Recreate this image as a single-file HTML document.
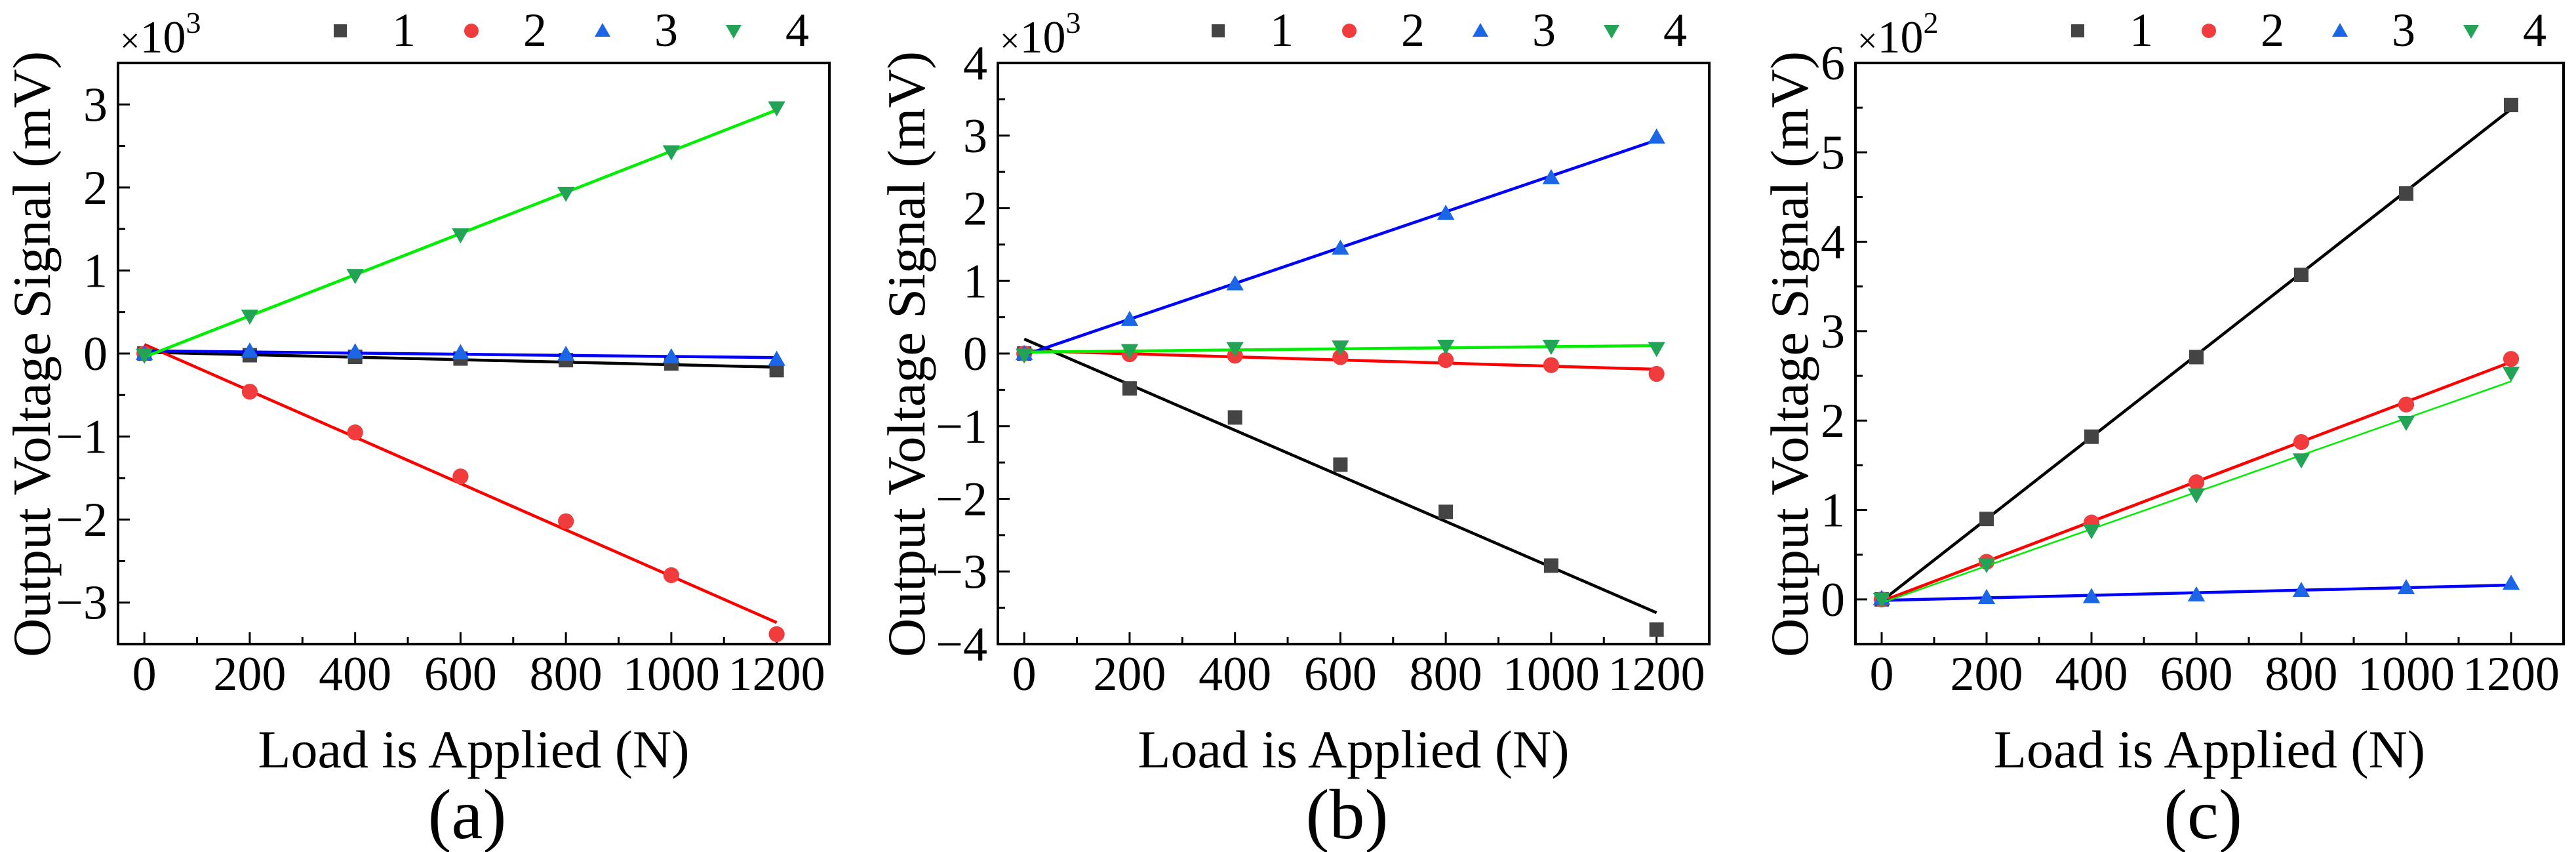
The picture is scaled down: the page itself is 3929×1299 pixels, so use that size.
<!DOCTYPE html>
<html><head><meta charset="utf-8"><style>
html,body{margin:0;padding:0;background:#fff;}
svg{display:block;}
svg text{font-family:"Liberation Serif","Times New Roman",serif;}
</style></head><body>
<svg id="fig" width="3929" height="1299" viewBox="0 0 3929 1299" xmlns="http://www.w3.org/2000/svg"></svg>
<script>
// ---- Data ----
const loads = [0, 200, 400, 600, 800, 1000, 1200];
const seriesNames = ["1", "2", "3", "4"];
// Panel (a), x10^3 mV
const a1 = [0, -0.02, -0.04, -0.06, -0.08, -0.12, -0.2];
const a2 = [0, -0.46, -0.95, -1.48, -2.02, -2.67, -3.38];
const a3 = [0, 0.03, 0.02, 0.01, -0.01, -0.04, -0.07];
const a4 = [-0.02, 0.45, 0.94, 1.43, 1.93, 2.43, 2.96];
// Panel (b), x10^3 mV
const b1 = [0, -0.48, -0.88, -1.53, -2.18, -2.92, -3.8];
const b2 = [0, -0.01, -0.03, -0.05, -0.09, -0.16, -0.28];
const b3 = [0, 0.47, 0.96, 1.45, 1.93, 2.42, 2.98];
const b4 = [-0.02, 0.04, 0.07, 0.09, 0.1, 0.1, 0.07];
// Panel (c), x10^2 mV
const c1 = [0, 0.9, 1.82, 2.71, 3.63, 4.54, 5.53];
const c2 = [0, 0.42, 0.86, 1.31, 1.76, 2.18, 2.69];
const c3 = [0.01, 0.02, 0.03, 0.05, 0.1, 0.13, 0.18];
const c4 = [0, 0.39, 0.77, 1.17, 1.56, 1.98, 2.53];
const xTicks = [0, 200, 400, 600, 800, 1000, 1200];
const aTicks = [-3, -2, -1, 0, 1, 2, 3];
const bTicks = [-4, -3, -2, -1, 0, 1, 2, 3, 4];
const cTicks = [0, 1, 2, 3, 4, 5, 6];

const NS = "http://www.w3.org/2000/svg";
const FONT = "Liberation Serif, Times New Roman, serif";
const svg = document.getElementById("fig");
function mk(tag, attrs, parent) {
  const e = document.createElementNS(NS, tag);
  if (tag === "text") e.setAttribute("font-family", FONT);
  for (const k in attrs) e.setAttribute(k, attrs[k]);
  (parent || svg).appendChild(e);
  return e;
}
const markerCol = ["#444444", "#f03c3c", "#1a66e6", "#22a356"];
const lineCol = ["#000000", "#ff0000", "#0000ff", "#00ee00"];
const shapes = ["square", "circle", "up", "down"];

function marker(g, shape, cx, cy, col, r) {
  let el;
  if (shape === "square") el = mk("rect", {x: cx - r, y: cy - r, width: 2 * r, height: 2 * r, fill: col}, g);
  else if (shape === "circle") el = mk("circle", {cx: cx, cy: cy, r: r * 1.1, fill: col}, g);
  else if (shape === "up") el = mk("polygon", {points: `${cx},${cy - r * 1.2} ${cx - r * 1.2},${cy + r * 0.9} ${cx + r * 1.2},${cy + r * 0.9}`, fill: col}, g);
  else el = mk("polygon", {points: `${cx},${cy + r * 1.2} ${cx - r * 1.2},${cy - r * 0.9} ${cx + r * 1.2},${cy - r * 0.9}`, fill: col}, g);
  return el;
}
function fit(xs, ys) {
  const n = xs.length;
  let sx = 0, sy = 0, sxx = 0, sxy = 0;
  for (let i = 0; i < n; i++) { sx += xs[i]; sy += ys[i]; sxx += xs[i] * xs[i]; sxy += xs[i] * ys[i]; }
  const m = (n * sxy - sx * sy) / (n * sxx - sx * sx);
  return [m, (sy - m * sx) / n];
}

function panel(cfg) {
  const g = mk("g", {});
  
  
  const L = cfg.L, R = cfg.R, T = 96, B = 982;
  const xmin = -50, xmax = 1300;
  const X = v => L + (v - xmin) / (xmax - xmin) * (R - L);
  const Y = v => B - (v - cfg.ymin) / (cfg.ymax - cfg.ymin) * (B - T);
  const fr = mk("rect", {x: L, y: T, width: R - L, height: B - T, fill: "none", stroke: "#000", "stroke-width": 4}, g);
  
  
  for (let v = 0; v <= 1300; v += 100) {
    const major = v % 200 === 0;
    mk("line", {x1: X(v), x2: X(v), y1: B, y2: B - (major ? 18 : 11), stroke: "#000", "stroke-width": 3}, g);
  }
  xTicks.forEach(v => {
    const t = mk("text", {x: X(v), y: 1052, "text-anchor": "middle", "font-size": 74}, g);
    t.textContent = v;
    
    
  });
  const step = cfg.ticks[1] - cfg.ticks[0];
  for (let v = cfg.ymin; v <= cfg.ymax + 1e-9; v += step / 2) {
    const vv = Math.round(v * 100) / 100;
    const major = Math.abs(vv / step - Math.round(vv / step)) < 1e-6;
    mk("line", {x1: L, x2: L + (major ? 18 : 11), y1: Y(vv), y2: Y(vv), stroke: "#000", "stroke-width": 3}, g);
  }
  cfg.ticks.forEach(v => {
    const t = mk("text", {x: L - 16, y: Y(v) + 25, "text-anchor": "end", "font-size": 74}, g);
    t.textContent = v < 0 ? "\u2212" + (-v) : String(v);
    
    
  });
  const mlt = mk("text", {x: L + 3, y: 80, "font-size": 70}, g);
  
  
  mlt.innerHTML = '<tspan font-size="54">\u00d7</tspan>10<tspan font-size="46" dy="-30">' + cfg.exp + '</tspan>';
  const yt = mk("text", {x: cfg.ytx, y: 540, "text-anchor": "middle", "font-size": 82, transform: `rotate(-90 ${cfg.ytx} 540)`}, g);
  yt.textContent = "Output Voltage Signal (mV)";
  
  
  const xt = mk("text", {x: (L + R) / 2, y: 1170, "text-anchor": "middle", "font-size": 82}, g);
  xt.textContent = "Load is Applied (N)";
  
  
  const lab = mk("text", {x: (L + R) / 2 - 10, y: 1278, "text-anchor": "middle", "font-size": 108}, g);
  lab.textContent = "(" + cfg.id + ")";
  
  
  cfg.data.forEach((ys, si) => {
    const sg = mk("g", {}, g);
    
    
    const [m, b] = fit(loads, ys);
    const ln = mk("line", {x1: X(0), y1: Y(b), x2: X(1200), y2: Y(m * 1200 + b), stroke: lineCol[si], "stroke-width": (cfg.thin && si === 3) ? 2.5 : 4.5}, sg);
    
    
    loads.forEach((x, i) => {
      const mkEl = marker(sg, shapes[si], X(x), Y(ys[i]), markerCol[si], 11);
      
      
    });
  });
  seriesNames.forEach((n, i) => {
    const lg = mk("g", {}, g);
    
    
    const mx = cfg.legX + i * 200;
    marker(lg, shapes[i], mx, 47, markerCol[i], 10);
    const t = mk("text", {x: mx + 115, y: 70, "text-anchor": "end", "font-size": 72}, lg);
    t.textContent = n;
  });
}

panel({id: "a", L: 180, R: 1265, ymin: -3.5, ymax: 3.5, ticks: aTicks, exp: "3", data: [a1, a2, a3, a4], ytx: 76, legX: 519});
panel({id: "b", L: 1522, R: 2607, ymin: -4, ymax: 4, ticks: bTicks, exp: "3", data: [b1, b2, b3, b4], ytx: 1410, legX: 1858});
panel({id: "c", L: 2830, R: 3910, ymin: -0.5, ymax: 6, ticks: cTicks, exp: "2", data: [c1, c2, c3, c4], ytx: 2757, legX: 3169, thin: true});
</script>
</body></html>
